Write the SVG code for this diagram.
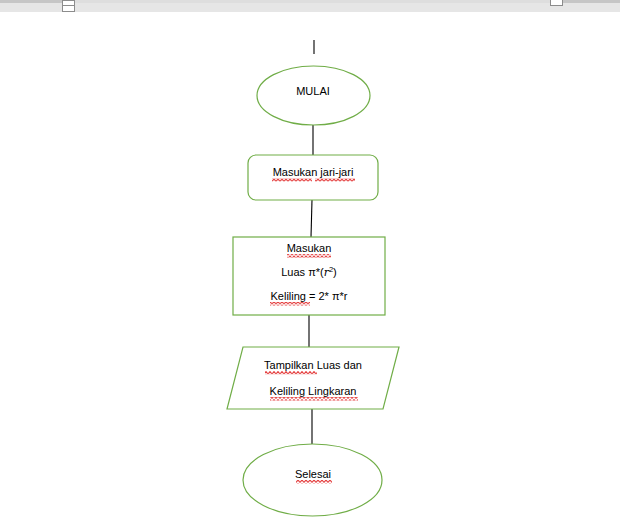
<svg xmlns="http://www.w3.org/2000/svg" width="620" height="529" viewBox="0 0 620 529">
<defs>
<style>
.shape{fill:#fff;stroke:#70ad47;stroke-width:1.2}
.conn{stroke:#000;stroke-width:1.1;fill:none}
.t{font-family:"Liberation Sans",Arial,sans-serif;font-size:11px;fill:#000;text-anchor:middle}
.sq{fill:url(#squig)}
</style>
<pattern id="squig" width="4" height="3.5" patternUnits="userSpaceOnUse">
<path d="M0,3 L2,0.6 L4,3" fill="none" stroke="#e02020" stroke-width="1"/>
</pattern>
</defs>
<rect width="620" height="529" fill="#fff"/>
<g id="ruler">
<rect x="0" y="0" width="620" height="12" fill="#e6e6e6"/>
<rect x="0" y="0" width="620" height="3" fill="#dedede"/>
<rect x="0" y="0" width="62" height="3" fill="#c6c6c6"/>
<rect x="562" y="0" width="58" height="3" fill="#c6c6c6"/>
<rect x="62.5" y="0.5" width="12" height="5" fill="#fff" stroke="#8c8c8c"/>
<rect x="62.5" y="5.5" width="12" height="6" fill="#fff" stroke="#8c8c8c"/>
<rect x="550.5" y="-1" width="12" height="6.5" fill="#fff" stroke="#8c8c8c"/>
</g>
<g id="connectors">
<line class="conn" x1="314" y1="40" x2="314" y2="54"/>
<line class="conn" x1="313" y1="125" x2="313" y2="155"/>
<line class="conn" x1="312" y1="200" x2="311" y2="237"/>
<line class="conn" x1="309" y1="315" x2="309" y2="347"/>
<line class="conn" x1="312" y1="409" x2="312" y2="444"/>
</g>
<g id="mulai">
<ellipse class="shape" cx="313.5" cy="95.5" rx="56.5" ry="29.5"/>
<text class="t" x="313" y="95">MULAI</text>
</g>
<g id="input">
<rect class="shape" x="248" y="155" width="130" height="45" rx="8" ry="8"/>
<text class="t" x="313" y="176">Masukan jari-jari</text>
<rect class="sq" x="272" y="178" width="40" height="3.5"/>
<rect class="sq" x="315" y="178" width="40" height="3.5"/>
</g>
<g id="proses">
<rect class="shape" x="233" y="237" width="152" height="78"/>
<text class="t" x="309" y="252">Masukan</text>
<rect class="sq" x="287" y="254" width="44" height="3.5"/>
<text class="t" x="309" y="276">Luas π*(<tspan font-family="'DejaVu Serif',serif" font-style="italic">r</tspan><tspan font-size="7.5" dy="-4">2</tspan><tspan dy="4">)</tspan></text>
<text class="t" x="309" y="300">Keliling = 2* π*r</text>
<rect class="sq" x="270" y="302" width="40" height="3.5"/>
</g>
<g id="output">
<polygon class="shape" points="243,347 399,347 383,409 227,409"/>
<text class="t" x="313" y="369">Tampilkan Luas dan</text>
<rect class="sq" x="265" y="371" width="52" height="3.5"/>
<text class="t" x="313" y="395">Keliling Lingkaran</text>
<rect class="sq" x="270" y="397" width="88" height="3.5"/>
</g>
<g id="selesai">
<ellipse class="shape" cx="312.5" cy="480" rx="69.5" ry="36"/>
<text class="t" x="313" y="478">Selesai</text>
<rect class="sq" x="296" y="480" width="36" height="3.5"/>
</g>
</svg>
